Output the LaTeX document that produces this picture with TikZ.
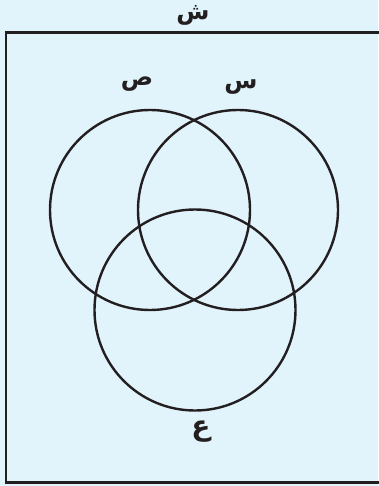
\documentclass[tikz,border=0pt]{standalone}
\usepackage{fontspec}
\newfontfamily\arabicfont[Script=Arabic]{DejaVu Sans}
\TeXXeTstate=1
\definecolor{bgblue}{HTML}{E1F3FB}
\definecolor{linegray}{HTML}{231F20}
\begin{document}
\begin{tikzpicture}[x=1pt,y=-1pt,
  circ/.style={draw=linegray,line width=2.4pt},
  lab/.style={font=\arabicfont\bfseries\fontsize{24}{28}\selectfont,text=linegray,inner sep=0pt}]
\fill[bgblue] (0,0) rectangle (378,486);
\useasboundingbox (0,0) rectangle (378,486);
\draw[draw=linegray,line width=2.8pt] (382,32.5) -- (6,32.5) -- (6,482.5) -- (382,482.5);
\node[circ,circle,minimum size=200pt,inner sep=0pt] (x) at (150,210) {};
\node[circ,circle,minimum size=200pt,inner sep=0pt] (y) at (238,210) {};
\node[circ,circle,minimum size=201pt,inner sep=0pt] (z) at (195,310) {};
\node[lab] (u) at (193,15) {\beginR ش\endR};
\node[lab] (lx) at (137,84) {\beginR ص\endR};
\node[lab] (ly) at (241,87) {\beginR س\endR};
\node[lab,font=\arabicfont\bfseries\fontsize{28}{32}\selectfont] (lz) at (201,432) {\beginR ع\endR};
\end{tikzpicture}
\end{document}
